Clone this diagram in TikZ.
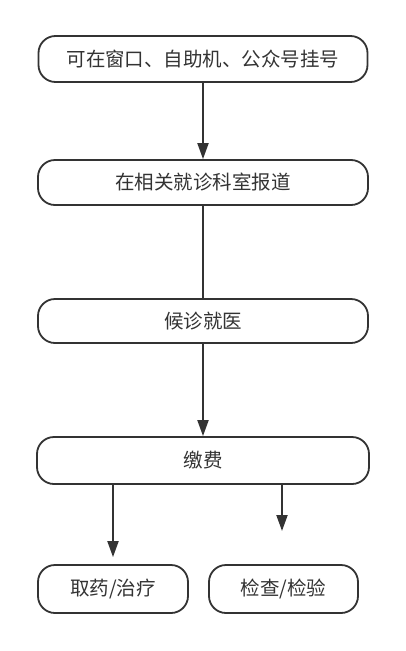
\documentclass[tikz,border=0pt]{standalone}
\usepackage{fontspec}
\setmainfont{Noto Sans CJK SC}
\usetikzlibrary{arrows.meta}
\definecolor{ink}{HTML}{333333}
\begin{document}
\begin{tikzpicture}[x=1pt,y=-1pt,
  box/.style={draw=ink, line width=1.8pt, rounded corners=17pt, fill=white,
    text=ink, font=\fontsize{19.5}{22}\selectfont, inner sep=0pt, anchor=center},
  arr/.style={draw=ink, line width=2pt, -{Triangle[length=16pt,width=11pt]}},
  ln/.style={draw=ink, line width=2pt}]
\useasboundingbox (0,0) rectangle (406,651);
\node[box, minimum width=329pt, minimum height=46pt] (b1) at (203,59) {可在窗口、自助机、公众号挂号};
\node[box, minimum width=330pt, minimum height=45pt] (b2) at (203,182.5) {在相关就诊科室报道};
\node[box, minimum width=330pt, minimum height=44pt] (b3) at (203,321) {候诊就医};
\node[box, minimum width=332pt, minimum height=47pt] (b4) at (203,460.5) {缴费};
\node[box, minimum width=150pt, minimum height=48pt] (b5) at (113,589) {取药/治疗};
\node[box, minimum width=149pt, minimum height=48pt] (b6) at (283.5,589) {检查/检验};
\coordinate (e) at (282,531);
\draw[arr] (b1.south) -- (b2.north);
\draw[ln] (b2.south) -- (b3.north);
\draw[arr] (b3.south) -- (b4.north);
\draw[arr, shorten >=7pt] (b4.south -| b5) -- (b5.north);
\draw[arr] (b4.south -| e) -- (e);
\end{tikzpicture}
\end{document}
